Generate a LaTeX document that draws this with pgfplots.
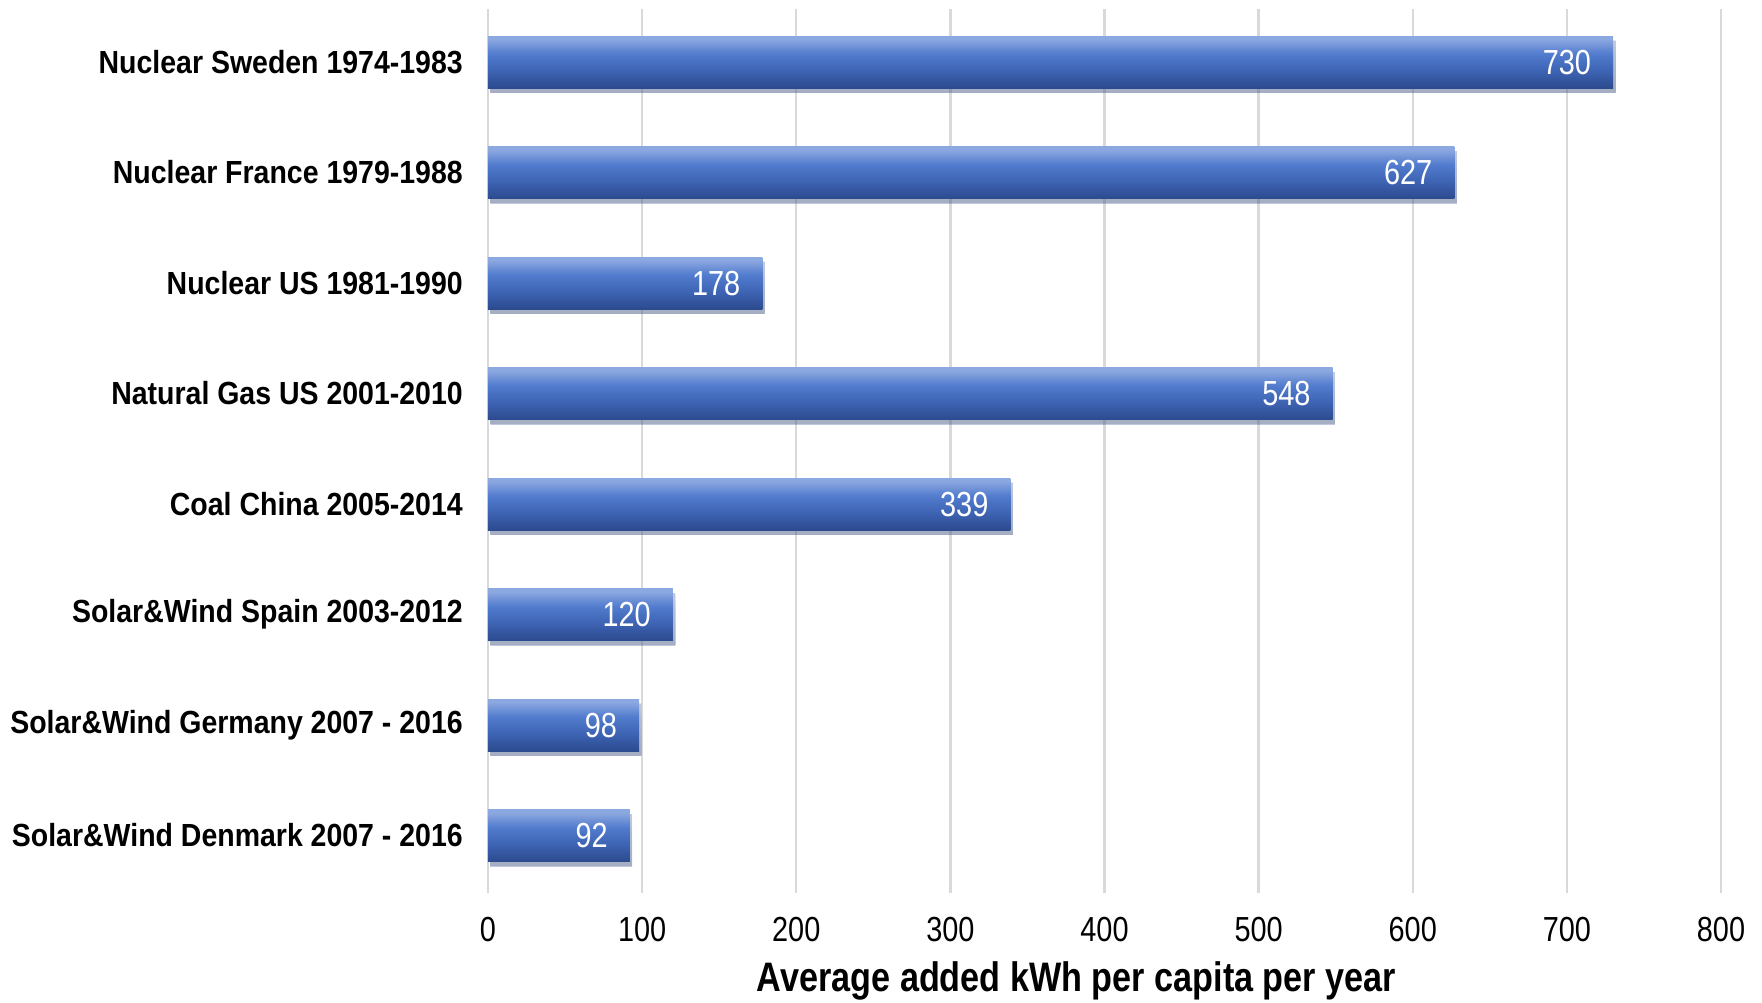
\documentclass[border=0pt]{standalone}
\usepackage{pgfplots}
\pgfplotsset{compat=1.18}
\usetikzlibrary{shadows}
\usepackage{fontspec}
\setmainfont{Liberation Sans}[FakeStretch=0.83]
\newfontfamily\ylabfont{Liberation Sans}[FakeStretch=0.89]
\definecolor{bartop}{RGB}{140,168,224}
\definecolor{barmid}{RGB}{82,124,206}
\definecolor{barlow}{RGB}{62,100,180}
\definecolor{barbot}{RGB}{44,74,142}
\definecolor{gridc}{RGB}{217,217,217}
\pgfdeclareverticalshading{barshade}{100bp}{color(0bp)=(barbot); color(25bp)=(barbot); color(42bp)=(barlow); color(58bp)=(barmid); color(72bp)=(bartop); color(75bp)=(bartop); color(100bp)=(bartop)}
\begin{document}
\begin{tikzpicture}
\useasboundingbox (-122pt,-27.5pt) rectangle (318.5pt,223.25pt);
\begin{axis}[
  at={(0,0)}, anchor=south west,
  scale only axis,
  width=308.25pt, height=221pt,
  xmin=0, xmax=800,
  ymin=-0.52, ymax=7.48,
  xtick={0,100,...,800},
  ytick={0,...,7},
  yticklabels={Solar\&Wind Denmark 2007 - 2016, Solar\&Wind Germany 2007 - 2016, Solar\&Wind Spain 2003-2012, Coal China 2005-2014, Natural Gas US 2001-2010, Nuclear US 1981-1990, Nuclear France 1979-1988, Nuclear Sweden 1974-1983},
  xmajorgrids,
  grid style={gridc, line width=0.6pt},
  axis line style={draw=none},
  tick style={draw=none},
  /pgf/number format/assume math mode=true,
  xticklabel style={font=\fontsize{8.7}{10}\selectfont, yshift=-2.5pt},
  yticklabel style={font=\ylabfont\bfseries\fontsize{8}{10}\selectfont, xshift=1.5pt},
  xlabel={Average added kWh per capita per year},
  xlabel style={font=\bfseries\fontsize{10.3}{12}\selectfont, yshift=1.8pt, xshift=-7pt},
  xbar, bar width=13pt,
  nodes near coords,
  every node near coord/.append style={anchor=east, text=white, font=\fontsize{8.7}{10}\selectfont, xshift=-2pt},
  mybar/.style={draw=none, shading=barshade, bar shift=0pt,
    drop shadow={opacity=0.3, shadow xshift=0.6pt, shadow yshift=-1.2pt}},
]
\addplot[mybar] coordinates {(92,0)};
\addplot[mybar] coordinates {(98,1)};
\addplot[mybar] coordinates {(120,2)};
\addplot[mybar] coordinates {(339,3)};
\addplot[mybar] coordinates {(548,4)};
\addplot[mybar] coordinates {(178,5)};
\addplot[mybar] coordinates {(627,6)};
\addplot[mybar] coordinates {(730,7)};
\end{axis}
\end{tikzpicture}
\end{document}
